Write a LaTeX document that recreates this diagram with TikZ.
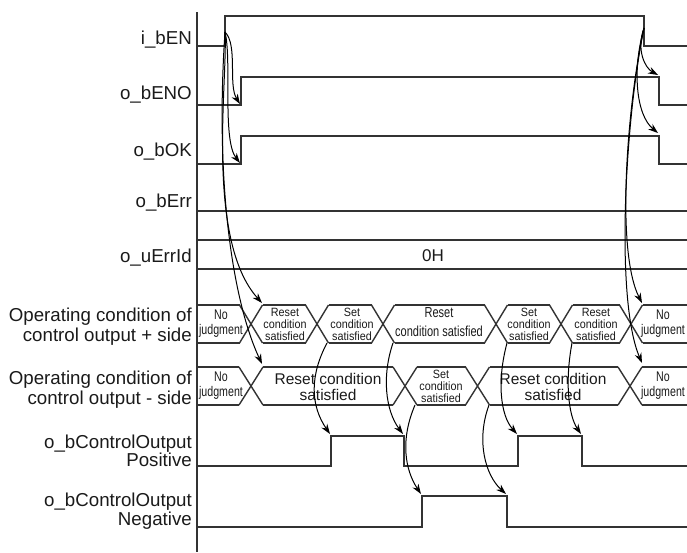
\documentclass[tikz,border=0pt]{standalone}
\usepackage{fontspec}
\setmainfont{Liberation Sans}
\newfontfamily\narrowfont[FakeStretch=0.76]{Liberation Sans}
\newfontfamily\smallfont[FakeStretch=0.9]{Liberation Sans}
\usetikzlibrary{arrows.meta}
\definecolor{ln}{HTML}{333333}
\definecolor{tx}{HTML}{1a1a1a}
\tikzset{
  sig/.style={line width=1.4pt, draw=ln},
  arr/.style={-{Stealth[length=10pt,width=7pt]}, line width=1pt, draw=black},
  lbl/.style={anchor=east, align=right, inner sep=0pt, text=tx, font=\fontsize{18.7}{20}\selectfont},
  lbltwo/.style={lbl, font=\fontsize{18.7}{17}\selectfont},
  small/.style={align=center, inner sep=0pt, text=tx, font=\smallfont\fontsize{12}{12}\selectfont},
  narrow/.style={align=center, inner sep=0pt, text=tx, font=\narrowfont\fontsize{14}{15}\selectfont},
  mid/.style={align=center, inner sep=0pt, text=tx, font=\narrowfont\fontsize{14.5}{19}\selectfont},
  big/.style={align=center, inner sep=0pt, text=tx, font=\fontsize{15.5}{15.5}\selectfont},
}
\begin{document}
\begin{tikzpicture}[x=1pt,y=-1pt]
\useasboundingbox (0,0) rectangle (687,552);
% axis
\draw[sig] (197,12) -- (197,552);
% labels
\node[lbl] (l1) at (192,40) {i\_bEN};
\node[lbl] (l2) at (192,95) {o\_bENO};
\node[lbl] (l3) at (192,152) {o\_bOK};
\node[lbl] (l4) at (192,203) {o\_bErr};
\node[lbl] (l5) at (192,258) {o\_uErrId};
\node[lbl] (l6) at (192,327) {Operating condition of\\control output + side};
\node[lbl] (l7) at (192,390) {Operating condition of\\control output - side};
\node[lbltwo] (l8) at (192,451) {o\_bControlOutput\\Positive};
\node[lbltwo] (l9) at (192,511) {o\_bControlOutput\\Negative};
% digital signals
\draw[sig] (197,46) -- (225,46) -- (225,16) -- (644,16) -- (644,46) -- (687,46);
\draw[sig] (197,105) -- (241,105) -- (241,77) -- (659,77) -- (659,105) -- (687,105);
\draw[sig] (197,164) -- (241,164) -- (241,136) -- (659,136) -- (659,164) -- (687,164);
\draw[sig] (197,211) -- (687,211);
\draw[sig] (197,240) -- (687,240) (197,269) -- (687,269);
\node[text=tx, font=\fontsize{17}{18}\selectfont] (zeroh) at (433,256) {0H};
\draw[sig] (197,466) -- (331,466) -- (331,436) -- (404,436) -- (404,466) -- (518,466) -- (518,436) -- (582,436) -- (582,466) -- (687,466);
\draw[sig] (197,527) -- (422,527) -- (422,496) -- (507,496) -- (507,527) -- (687,527);
% + side bus
\foreach \a/\b in {197/239.5, 262.5/305.5, 328.5/371.5, 394.5/484.5, 507.5/549.5, 572.5/619.5, 642.5/687}
  \draw[sig] (\a,305) -- (\b,305) (\a,343) -- (\b,343);
\foreach \c in {251,317,383,496,561,631}
  \draw[sig] (\c-11.5,305) -- (\c+11.5,343) (\c-11.5,343) -- (\c+11.5,305);
% - side bus
\foreach \a/\b in {197/239, 263/393, 417/465.5, 489.5/618, 642/687}
  \draw[sig] (\a,367) -- (\b,367) (\a,405) -- (\b,405);
\foreach \c/\h in {251/12,405/12,477.5/12,630/12}
  \draw[sig] (\c-\h,367) -- (\c+\h,405) (\c-\h,405) -- (\c+\h,367);
% bus texts
\node[narrow] (p1) at (221,324) {No\\judgment};
\node[small] (p2) at (285,324) {Reset\\condition\\satisfied};
\node[small] (p3) at (352,324) {Set\\condition\\satisfied};
\node[mid] (p4) at (439,322) {Reset\\condition satisfied};
\node[small] (p5) at (529,324) {Set\\condition\\satisfied};
\node[small] (p6) at (596,324) {Reset\\condition\\satisfied};
\node[narrow] (p7) at (663,324) {No\\judgment};
\node[narrow] (m1) at (221,386) {No\\judgment};
\node[big] (m2) at (328,387) {Reset condition\\satisfied};
\node[small] (m3) at (441,386) {Set\\condition\\satisfied};
\node[big] (m4) at (553,387) {Reset condition\\satisfied};
\node[narrow] (m5) at (663,386) {No\\judgment};
% arrow anchor points
\coordinate (enR) at (225,32);
\coordinate (enF) at (644,28);
\coordinate (enoR) at (240,104);
\coordinate (okR) at (240,163);
\coordinate (enoF) at (658,75);
\coordinate (okF) at (658,133);
\coordinate (pRes) at (262,303);
\coordinate (mRes) at (262,364);
\coordinate (pNoj) at (642,303);
\coordinate (mNoj) at (642,363);
\coordinate (pSet1) at (327,343);
\coordinate (pRes2) at (393,343);
\coordinate (mSet) at (415,405);
\coordinate (mRes2) at (489,405);
\coordinate (pSet2) at (507,343);
\coordinate (pRes3) at (572,343);
\coordinate (posR1) at (330,434);
\coordinate (posF1) at (403,434);
\coordinate (negR) at (421,494);
\coordinate (negF) at (506,494);
\coordinate (posR2) at (517,434);
\coordinate (posF2) at (581,434);
% arrows
\draw[arr] (enR) .. controls (238,45) and (228,85) .. (enoR);
\draw[arr] (enR) .. controls (232,60) and (222,140) .. (okR);
\draw[arr] (enR) .. controls (228,80) and (205,240) .. (pRes);
\draw[arr] (enR) .. controls (215,180) and (232,300) .. (mRes);
\draw[arr] (enF) .. controls (636,50) and (645,68) .. (enoF);
\draw[arr] (enF) .. controls (632,70) and (636,115) .. (okF);
\draw[arr] (enF) .. controls (628,100) and (615,250) .. (pNoj);
\draw[arr] (enF) .. controls (625,120) and (615,300) .. (mNoj);
\draw[arr] (pSet1) .. controls (310,375) and (310,405) .. (posR1);
\draw[arr] (pRes2) .. controls (382,375) and (385,410) .. (posF1);
\draw[arr] (mSet) .. controls (400,440) and (405,470) .. (negR);
\draw[arr] (mRes2) .. controls (476,440) and (485,475) .. (negF);
\draw[arr] (pSet2) .. controls (497,380) and (500,415) .. (posR2);
\draw[arr] (pRes3) .. controls (565,380) and (568,415) .. (posF2);
\end{tikzpicture}
\end{document}
